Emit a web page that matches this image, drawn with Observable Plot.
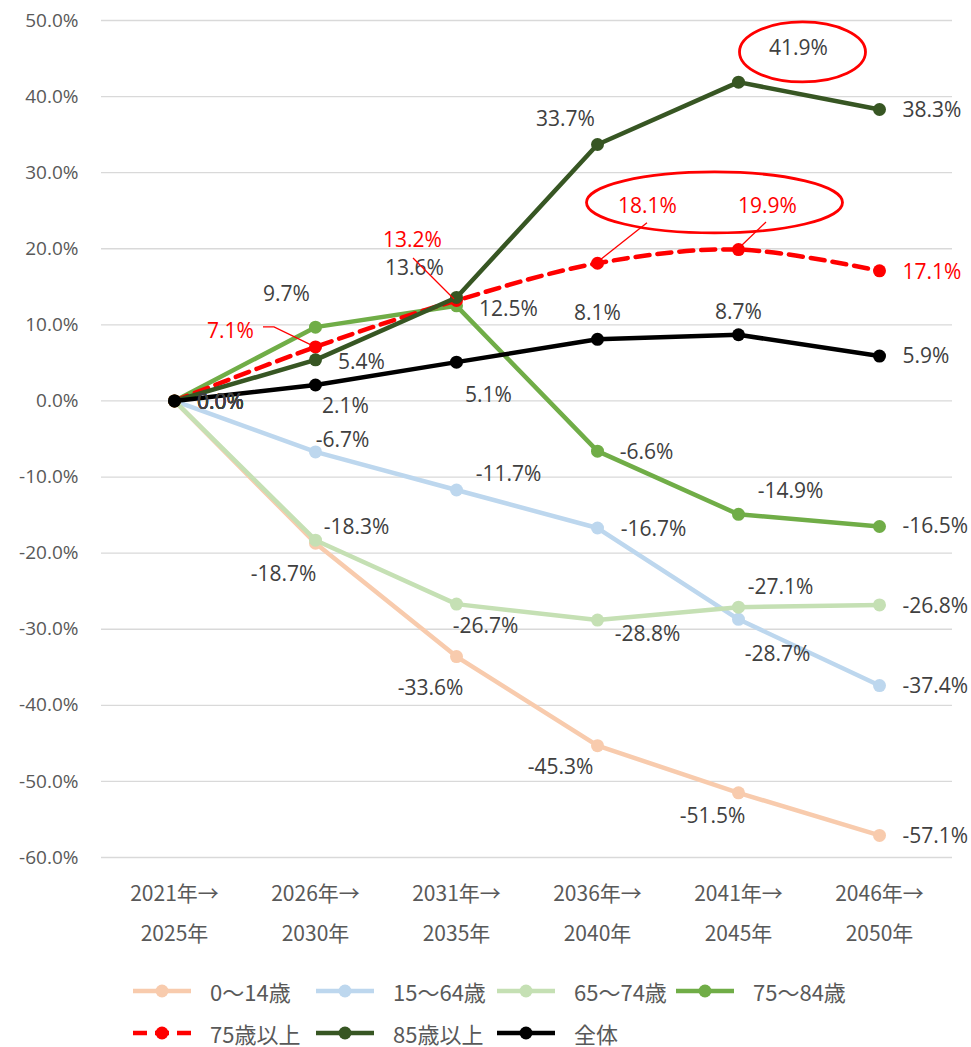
<!DOCTYPE html>
<html>
<head>
<meta charset="utf-8">
<script src="https://cdn.jsdelivr.net/npm/d3@7"></script>
<script src="https://cdn.jsdelivr.net/npm/@observablehq/plot@0.6"></script>
<style>
  html, body { margin: 0; padding: 0; background: #fff; }
  #chart { width: 971px; }
  .legend { display: grid; grid-template-columns: 183px 181px 179px auto; grid-auto-rows: 42px;
    padding: 10px 0 0 133px; font-family: "Noto Sans CJK JP", sans-serif; font-size: 22px; line-height: 1.1; color: #595959; }
  .legend .item { display: flex; align-items: center; white-space: nowrap; }
  .legend svg { margin-right: 19px; flex: none; }
</style>
</head>
<body>
<div id="chart"></div>
<script>
// ---- data ----
const periods = ["2021年→2025年", "2026年→2030年", "2031年→2035年", "2036年→2040年", "2041年→2045年", "2046年→2050年"];
const seriesNames = ["0～14歳", "15～64歳", "65～74歳", "75～84歳", "75歳以上", "85歳以上", "全体"];
const age0to14   = [0, -18.7, -33.6, -45.3, -51.5, -57.1];
const age15to64  = [0, -6.7, -11.7, -16.7, -28.7, -37.4];
const age65to74  = [0, -18.3, -26.7, -28.8, -27.1, -26.8];
const age75to84  = [0, 9.7, 12.5, -6.6, -14.9, -16.5];
const age75plus  = [0, 7.1, 13.2, 18.1, 19.9, 17.1];
const age85plus  = [0, 5.4, 13.6, 33.7, 41.9, 38.3];
const total      = [0, 2.1, 5.1, 8.1, 8.7, 5.9];
const yTicks = [-60, -50, -40, -30, -20, -10, 0, 10, 20, 30, 40, 50];

// ---- styles / placement ----
const seriesValues = [age0to14, age15to64, age65to74, age75to84, age75plus, age85plus, total];
const colors = ["#f8cbad", "#bdd7ee", "#c5e0b4", "#70ad47", "#ff0000", "#375623", "#000000"];
const labelColor = ["#404040", "#404040", "#404040", "#404040", "#ff0000", "#404040", "#404040"];
// label center offsets [dx, dy] for points 1..4; last point is left-anchored
const labelOffsets = [
  [[-32, 31], [-26, 32], [-37, 22], [-26, 23], [23, 1]],
  [[27, -12], [52, -16], [56, 1], [39, 35], [23, 1]],
  [[41, -13], [29, 22], [50, 14], [42, -20], [23, 1]],
  [[-29, -33], [52, 3], [49, 1], [52, -23], [23, 0]],
  [[-85, -16], [-44, -60], [50, -57], [29, -43], [23, 1]],
  [[46, 2], [-42, -29], [-32, -25], [60, -34], [23, 1]],
  [[30, 21], [32, 33], [0, -26], [0, -22], [23, 0]]
];

const data = seriesNames.flatMap((s, si) => seriesValues[si].map((v, i) => ({series: s, si, period: periods[i], i, v})));
const font = '"Open Sans", "Noto Sans CJK JP", sans-serif';

const seriesMarks = seriesNames.flatMap((s, si) => {
  const d = data.filter(e => e.si === si);
  return [
    Plot.line(d, {x: "period", y: "v", stroke: colors[si], strokeWidth: 4.5,
      curve: si === 4 ? "catmull-rom" : "linear",
      strokeDasharray: si === 4 ? "14,8" : null}),
    Plot.dot(d, {x: "period", y: "v", r: 6.5, fill: colors[si], stroke: "none"})
  ];
});

const labelMarks = data.filter(d => d.i > 0).map(d => {
  const [dx, dy] = labelOffsets[d.si][d.i - 1];
  const last = d.i === periods.length - 1;
  return Plot.text([d], {x: "period", y: "v", text: e => e.v.toFixed(1) + "%",
    dx, dy, textAnchor: last ? "start" : "middle", fill: labelColor[d.si],
    fontSize: 21, fontFamily: font});
});
const zeroLabels = data.filter(d => d.i === 0 && d.si !== 4).map(d =>
  Plot.text([d], {x: "period", y: "v", text: e => e.v.toFixed(1) + "%", dx: 46, dy: 1,
    textAnchor: "middle", fill: "#404040", fontSize: 21, fontFamily: font}));

// call-out ellipses and leader lines anchored to data points
function annotations(index, scales) {
  const g = d3.create("svg:g").attr("fill", "none").attr("stroke", "#ff0000");
  const ellipses = [
    {p: 4, v: age85plus[4], dx: 64.5, dy: -29.7, rx: 63, ry: 30},
    {p: 3, v: age75plus[3], dx: 117.5, dy: -60.3, rx: 128, ry: 30.5}
  ];
  for (const e of ellipses) {
    g.append("ellipse")
      .attr("cx", scales.x(periods[e.p]) + e.dx)
      .attr("cy", scales.y(e.v) + e.dy)
      .attr("rx", e.rx).attr("ry", e.ry).attr("stroke-width", 2.8);
  }
  const leaders = [
    {p: 1, v: age75plus[1], pts: [[-52, -19.5], [-41, -19.5], [-4, -1.5]]},
    {p: 2, v: age75plus[2], pts: [[-43, -42], [-2, -1]]},
    {p: 3, v: age75plus[3], pts: [[50, -40], [2, -2]]},
    {p: 4, v: age75plus[4], pts: [[28, -27], [2, -2]]}
  ];
  for (const l of leaders) {
    const x0 = scales.x(periods[l.p]), y0 = scales.y(l.v);
    g.append("polyline")
      .attr("points", l.pts.map(([a, b]) => `${x0 + a},${y0 + b}`).join(" "))
      .attr("stroke-width", 1.3);
  }
  return g.node();
}

const chart = Plot.plot({
  width: 971,
  height: 960,
  marginLeft: 101,
  marginRight: 19,
  marginTop: 20,
  marginBottom: 103,
  style: {fontFamily: font, background: "#fff"},
  x: {type: "point", domain: periods, padding: 0.5},
  y: {domain: [-60, 50]},
  marks: [
    Plot.gridY(yTicks, {stroke: "#d9d9d9", strokeOpacity: 1, strokeWidth: 1.3}),
    Plot.axisY(yTicks, {tickSize: 0, tickPadding: 23, tickFormat: d => d.toFixed(1) + "%",
      fontSize: 19, fill: "#595959", label: null}),
    Plot.axisX({tickSize: 0, tickPadding: 15, tickFormat: d => d.replace("→", "→\n"),
      fontSize: 21, lineHeight: 1.9, fill: "#595959", label: null,
      fontFamily: '"Noto Sans CJK JP", sans-serif'}),
    ...seriesMarks,
    ...zeroLabels,
    ...labelMarks,
    annotations
  ]
});
document.getElementById("chart").appendChild(chart);

// legend
const legend = document.createElement("div");
legend.className = "legend";
seriesNames.forEach((s, si) => {
  const item = document.createElement("div");
  item.className = "item";
  const dash = si === 4 ? ' stroke-dasharray="14,8"' : "";
  item.innerHTML = `<svg width="58" height="16"><line x1="0" y1="8" x2="58" y2="8" stroke="${colors[si]}" stroke-width="4.5"${dash}/><circle cx="29" cy="8" r="6.5" fill="${colors[si]}"/></svg><span>${s}</span>`;
  legend.appendChild(item);
});
document.getElementById("chart").appendChild(legend);
</script>
</body>
</html>
